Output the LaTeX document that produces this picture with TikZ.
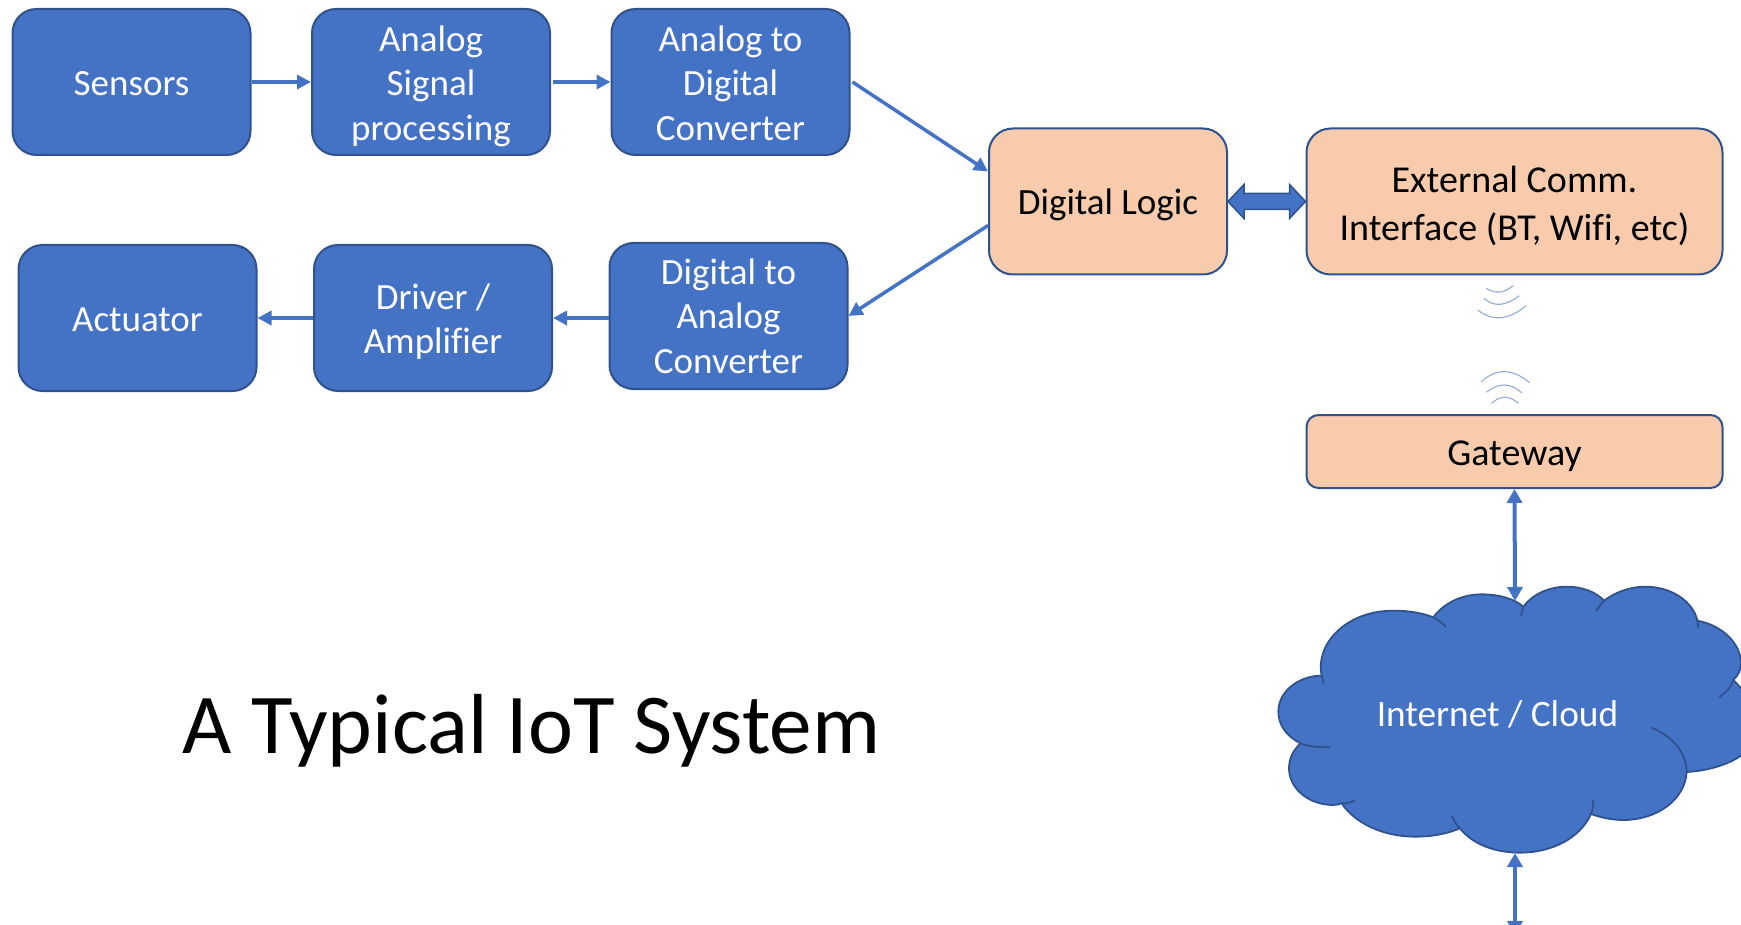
\documentclass[tikz,border=0pt]{standalone}
\usepackage{fontspec}
\setmainfont[Ligatures=CommonOff]{Carlito}
\usetikzlibrary{arrows.meta,calc}
\definecolor{boxblue}{HTML}{4472C4}
\definecolor{edgeblue}{HTML}{2F528F}
\definecolor{peach}{HTML}{F7CBAC}
\definecolor{wave}{HTML}{8FAADC}
\newcommand{\tst}{\rule[-.22em]{0pt}{1.18em}}
\newcommand{\tstb}{\rule[-.22em]{0pt}{1.13em}}
\newcommand{\tstc}{\rule[-.22em]{0pt}{1.23em}}
\tikzset{
  basebox/.style={rounded corners=24pt,draw=edgeblue,line width=2pt,inner sep=0pt,align=center,minimum height=146pt,font=\fontsize{37}{44.5}\selectfont},
  bluebox/.style={basebox,fill=boxblue,text=white,minimum width=238pt},
  peachbox/.style={basebox,fill=peach,text=black},
  conn/.style={draw=boxblue,line width=3.5pt,-{Triangle[width=14pt,length=14pt]}},
  biconn/.style={draw=boxblue,line width=4pt,{Triangle[width=15pt,length=14pt]}-{Triangle[width=15pt,length=14pt]}},
  wavearc/.style={draw=wave,line width=1.1pt},
  cloudedge/.style={draw=edgeblue,line width=1.8pt}
}
\begin{document}
\begin{tikzpicture}[x=1pt,y=-1pt]
\useasboundingbox (0,0) rectangle (1741,925);
\clip (0,0) rectangle (1741,925);
% cloud outline
\begin{scope}[shift={(1240,560)},x=0.33333pt,y=-0.33333pt]
\path[fill=boxblue,cloudedge]
 (245,347) .. controls (225,250) and (320,152) .. (460,152)
 .. controls (510,152) and (550,160) .. (580,172)
 .. controls (610,130) and (665,103) .. (725,103)
 .. controls (780,103) and (825,118) .. (850,140)
 .. controls (875,105) and (925,80) .. (980,80)
 .. controls (1030,80) and (1070,98) .. (1092,122)
 .. controls (1125,97) and (1170,80) .. (1215,80)
 .. controls (1295,80) and (1360,125) .. (1372,182)
 .. controls (1445,195) and (1503,250) .. (1503,310)
 .. controls (1503,330) and (1495,345) .. (1480,360)
 .. controls (1530,410) and (1570,470) .. (1550,530)
 .. controls (1530,590) and (1440,630) .. (1340,636)
 .. controls (1335,720) and (1250,780) .. (1150,780)
 .. controls (1115,780) and (1080,772) .. (1053,762)
 .. controls (1020,835) and (935,878) .. (840,878)
 .. controls (760,878) and (695,850) .. (660,805)
 .. controls (620,822) and (575,830) .. (525,830)
 .. controls (430,830) and (345,790) .. (305,730)
 .. controls (295,733) and (290,735) .. (280,735)
 .. controls (205,735) and (147,685) .. (147,625)
 .. controls (147,595) and (160,570) .. (182,550)
 .. controls (140,530) and (115,495) .. (115,455)
 .. controls (115,395) and (175,347) .. (245,347) -- cycle;
\path[cloudedge]
 (245,347) -- (252,370)
 (580,172) .. controls (595,180) .. (618,200)
 (850,140) -- (843,167)
 (1092,122) -- (1068,153)
 (1372,182) -- (1375,203)
 (1480,360) .. controls (1470,385) .. (1438,412)
 (1235,503) .. controls (1300,530) and (1340,580) .. (1340,636)
 (1053,762) .. controls (1058,750) .. (1060,720)
 (660,805) .. controls (650,795) .. (635,768)
 (305,730) .. controls (320,730) .. (345,722)
 (182,550) .. controls (210,560) .. (272,562);
\end{scope}
\coordinate (cloudtop) at (1515,601);
\coordinate (cloudbot) at (1515,853);
\coordinate (offpage) at (1515,935);
\node[text=white,font=\fontsize{37.3}{44.5}\selectfont] (cloud) at (1497.5,714) {Internet / Cloud};
% boxes
\node[bluebox] (sensors) at (131.5,82) {\tst Sensors};
\node[bluebox] (asp) at (431,82) {\tst Analog\\Signal\\\tst processing};
\node[bluebox] (adc) at (730.5,82) {\tst Analog to\\Digital\\\tst Converter};
\node[bluebox] (act) at (137.5,318) {\tst Actuator};
\node[bluebox] (drv) at (433,318) {\tst Driver /\\\tst Amplifier};
\node[bluebox] (dac) at (728.5,316) {\tstb Digital to\\Analog\\\tstb Converter};
\node[peachbox,minimum width=238pt] (dl) at (1108,201.5) {\tstb Digital Logic};
\node[peachbox,minimum width=416pt,font=\fontsize{38}{46.5}\selectfont] (ext) at (1514.5,201.5) {\tstc External Comm.\\\tstc Interface (BT, Wifi, etc)};
\node[peachbox,minimum width=416pt,minimum height=73pt,rounded corners=12pt,font=\fontsize{38}{46.5}\selectfont] (gw) at (1514.5,451.5) {\tst Gateway};
% connectors
\draw[conn] (sensors.east) -- (asp.west);
\draw[conn] ([xshift=2pt]asp.east) -- (adc.west);
\draw[conn] ([xshift=2pt]adc.east) -- ([yshift=30pt]dl.west);
\draw[conn] ([yshift=-24pt]dl.west) -- (dac.east);
\draw[conn] ([yshift=-2pt]dac.west) -- (drv.east);
\draw[conn] (drv.west) -- (act.east);
\draw[biconn] (gw.south) -- (cloudtop);
\draw[biconn] (cloudbot) -- (offpage);
% thick double arrow
\draw[fill=boxblue,draw=edgeblue,line width=1.5pt,line join=miter]
 (dl.east) -- ++(16,-17) -- ++(0,9) -- ($(ext.west)+(-16,-8)$) -- ++(0,-9) -- (ext.west)
 -- ++(-16,17) -- ++(0,-9) -- ($(dl.east)+(16,8)$) -- ++(0,9) -- cycle;
% wireless waves
\draw[wavearc] (1486.4,288.3) .. controls (1494.9,294.1) and (1503.9,293.2) .. (1513.3,285.7);
\draw[wavearc] (1484,298.3) .. controls (1493.9,307.2) and (1505.6,306.3) .. (1519.2,295.7);
\draw[wavearc] (1477.8,310) .. controls (1492.5,321.7) and (1508.6,320.2) .. (1526.1,305.7);
\draw[wavearc] (1481.2,381.7) .. controls (1496.4,368) and (1512.5,368.4) .. (1529.5,382.7);
\draw[wavearc] (1486.4,392.3) .. controls (1498.5,382.4) and (1510.3,382.6) .. (1521.6,392.7);
\draw[wavearc] (1491.6,403.3) .. controls (1500.1,395.3) and (1509.1,395.3) .. (1518.5,403.3);
% title
\node[font=\fontsize{85.2}{100}\selectfont,text=black] (title) at (531.7,731) {A Typical IoT System};
\end{tikzpicture}
\end{document}
